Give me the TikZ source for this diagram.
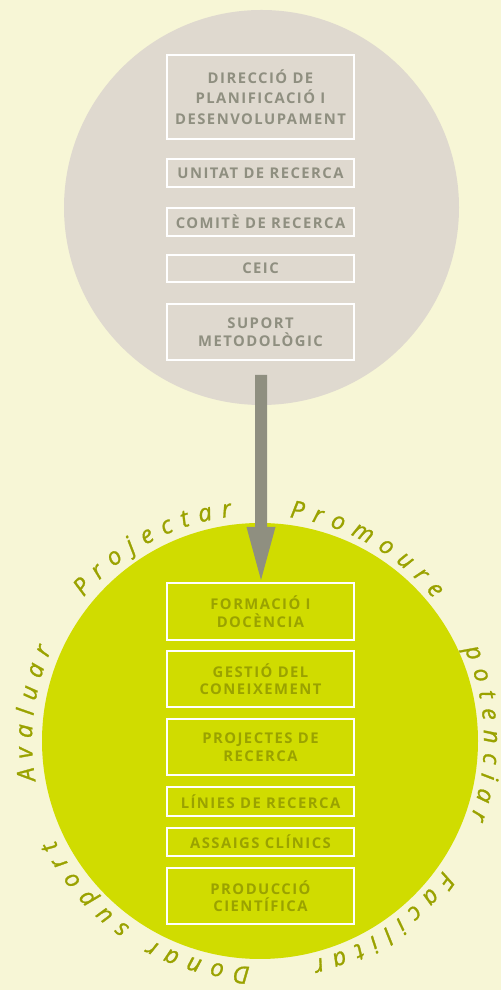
\documentclass[tikz,border=0pt]{standalone}
\usepackage{fontspec}
\setmainfont{Open Sans}
\newfontfamily\boxfont[LetterSpace=10]{Open Sans}
\newfontfamily\arcfont[ItalicFeatures={FakeBold=1.2}]{Open Sans}
\usetikzlibrary{decorations.text}
\definecolor{bg}{HTML}{F7F6D6}
\definecolor{topc}{HTML}{DFD9CF}
\definecolor{grayt}{HTML}{8F8F80}
\definecolor{lime}{HTML}{D0DC00}
\definecolor{olive}{HTML}{9AA200}
\begin{document}
\begin{tikzpicture}[x=1pt,y=1pt,
  bigcircle/.style={circle, inner sep=0pt, draw=none},
  box/.style={draw=white, line width=2.4pt, minimum width=187pt, inner sep=0pt,
    align=center, font={\boxfont\bfseries\fontsize{14.8}{17.5}\selectfont}},
  topbox/.style={box, text=grayt},
  botbox/.style={box, text=olive},
  arcword/.style={decorate, decoration={text along path, text align=fit to path,
    text={|\arcfont\itshape\fontsize{24}{24}\selectfont\color{olive}|#1}}}
]
\useasboundingbox (0,0) rectangle (501,990);
\fill[bg] (0,0) rectangle (501,990);
% circles
\node[bigcircle, fill=topc, minimum size=395pt] (topcirc) at (261.5,782.5) {};
\node[bigcircle, fill=lime, minimum size=436pt] (botcirc) at (260,249) {};
% arrow
\coordinate (arrtop) at (261,615);
\coordinate (arrtip) at (261,410);
\fill[grayt] ([xshift=-6pt]arrtop) -- ([xshift=6pt]arrtop) -- ([xshift=6pt]arrtop |- 0,463)
  -- ([xshift=14.5pt]arrtip |- 0,463) -- (arrtip) -- ([xshift=-14.5pt]arrtip |- 0,463)
  -- ([xshift=-6pt]arrtop |- 0,463) -- cycle;
% top boxes
\node[topbox, minimum height=83.5pt, font={\boxfont\bfseries\fontsize{14.8}{20.5}\selectfont}] (t1) at (260.5,893) {DIRECCIÓ DE\\PLANIFICACIÓ I\\DESENVOLUPAMENT};
\node[topbox, minimum height=27.5pt] (t2) at (260.5,817) {UNITAT DE RECERCA};
\node[topbox, minimum height=27.5pt] (t3) at (260.5,768) {COMITÈ DE RECERCA};
\node[topbox, minimum height=26.5pt] (t4) at (260.5,721.5) {CEIC};
\node[topbox, minimum height=55.5pt] (t5) at (260.5,658) {SUPORT\\METODOLÒGIC};
% bottom boxes
\node[botbox, minimum height=56.5pt] (b1) at (260.5,378.5) {FORMACIÓ I\\DOCÈNCIA};
\node[botbox, minimum height=55.5pt] (b2) at (260.5,311) {GESTIÓ DEL\\CONEIXEMENT};
\node[botbox, minimum height=55.5pt] (b3) at (260.5,243) {PROJECTES DE\\RECERCA};
\node[botbox, minimum height=28.5pt] (b4) at (260.5,188.5) {LÍNIES DE RECERCA};
\node[botbox, minimum height=27.5pt] (b5) at (260.5,148) {ASSAIGS CLÍNICS};
\node[botbox, minimum height=55.5pt] (b6) at (260.5,94) {PRODUCCIÓ\\CIENTÍFICA};
% words around the lower circle
\coordinate (tc) at (258,249);
\path[arcword={Avaluar}] (tc) ++(190:226) arc[start angle=190, end angle=156, radius=226pt];
\path[arcword={Projectar}] (tc) ++(140.5:226) arc[start angle=140.5, end angle=96.6, radius=226pt];
\path[arcword={Promoure}] (tc) ++(82:226) arc[start angle=82, end angle=39, radius=226pt];
\path[arcword={potenciar}] (tc) ++(24:226) arc[start angle=24, end angle=-20, radius=226pt];
\path[arcword={Facilitar}] (tc) ++(-35:226) arc[start angle=-35, end angle=-76, radius=226pt];
\path[arcword={Donar suport}] (tc) ++(-92:226) arc[start angle=-92, end angle=-154, radius=226pt];
\end{tikzpicture}
\end{document}
